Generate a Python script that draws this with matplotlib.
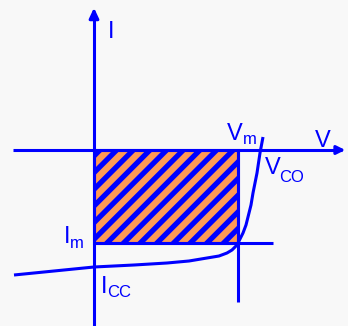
import matplotlib
matplotlib.use("Agg")
import matplotlib.pyplot as plt
from matplotlib.patches import Rectangle

# ---- data (V, I) ----
curve_v = [-80, -40, 0, 40, 73, 95, 113, 125, 133, 138, 141, 143, 144, 146, 149, 152, 154, 157, 159, 161, 163, 166, 169]
curve_i = [-125, -121, -117, -115, -113, -111, -108, -106, -103, -100, -97, -95, -93, -89, -83, -75, -67, -55, -43, -33, -23, -3, 13]
v_m = 144
i_m = -93
labels = {"I": "I", "V": "V"}

BLUE = "#0000ff"
ORANGE = "#ff9955"
BG = "#f8f8f8"

plt.rcParams["hatch.linewidth"] = 3.8
plt.rcParams["font.family"] = ["Liberation Sans", "DejaVu Sans"]

fig = plt.figure(figsize=(3.48, 3.26), dpi=100, facecolor=BG)
ax = fig.add_axes([0, 0, 1, 1])
ax.set_facecolor(BG)
ax.set_xlim(-94, 254)
ax.set_ylim(-176, 150)
ax.axis("off")

lw = 2.2
# hatched power rectangle
ax.add_patch(Rectangle((0, i_m), v_m, -i_m, facecolor=ORANGE, edgecolor=BLUE,
                       hatch="//", linewidth=lw, zorder=2))

# axes
ax.plot([-81, 248], [0, 0], color=BLUE, lw=lw, zorder=3, solid_capstyle="butt")
ax.annotate("", xy=(254, 0), xytext=(240, 0),
            arrowprops=dict(arrowstyle="-|>,head_length=0.5,head_width=0.25",
                            color=BLUE, lw=lw), zorder=3)
ax.plot([0, 0], [-176, 136], color=BLUE, lw=lw, zorder=3, solid_capstyle="butt")
ax.annotate("", xy=(0, 145), xytext=(0, 130),
            arrowprops=dict(arrowstyle="-|>,head_length=0.6,head_width=0.28",
                            color=BLUE, lw=lw), zorder=3)

# Vm / Im guide lines
ax.plot([v_m, v_m], [0, -152], color=BLUE, lw=lw, zorder=3, solid_capstyle="butt")
ax.plot([0, 179], [i_m, i_m], color=BLUE, lw=lw, zorder=3, solid_capstyle="butt")

# I-V curve
ax.plot(curve_v, curve_i, color=BLUE, lw=lw, zorder=4, solid_capstyle="butt",
        solid_joinstyle="round")

fs = 17
fss = 12
ax.text(14, 112, labels["I"], color=BLUE, fontsize=fs, va="baseline", ha="left")
ax.text(221, 3, labels["V"], color=BLUE, fontsize=fs, va="baseline", ha="left")
ax.text(133, 10, "V", color=BLUE, fontsize=fs, va="baseline", ha="left")
ax.text(149, 6, "m", color=BLUE, fontsize=fss, va="baseline", ha="left")
ax.text(171, -24, "V", color=BLUE, fontsize=fs, va="baseline", ha="left")
ax.text(185, -32, "CO", color=BLUE, fontsize=fss, va="baseline", ha="left")
ax.text(-30, -93, "I", color=BLUE, fontsize=fs, va="baseline", ha="left")
ax.text(-24, -98, "m", color=BLUE, fontsize=fss, va="baseline", ha="left")
ax.text(7, -143, "I", color=BLUE, fontsize=fs, va="baseline", ha="left")
ax.text(13, -147, "CC", color=BLUE, fontsize=fss, va="baseline", ha="left")

fig.savefig("out.png", dpi=100, facecolor=BG)
